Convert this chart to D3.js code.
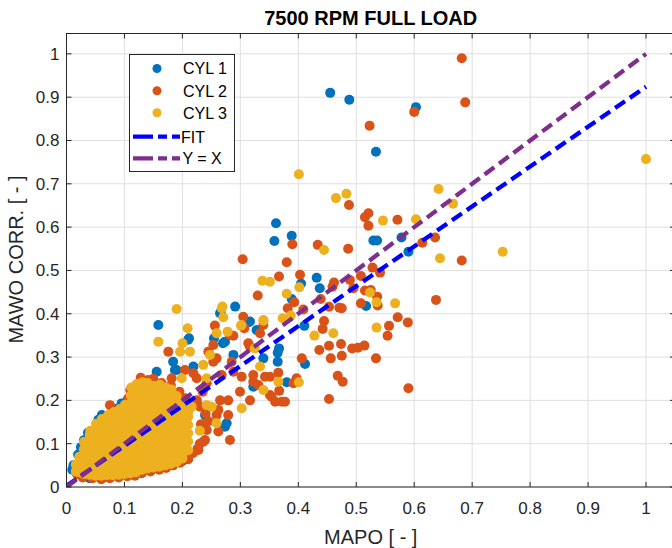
<!DOCTYPE html>
<html><head><meta charset="utf-8">
<script src="https://cdn.jsdelivr.net/npm/d3@7"></script>
<style>body{margin:0;background:#fff}text{font-family:"Liberation Sans",Arial,sans-serif}</style>
</head><body><svg id="c" width="672" height="548"></svg>
<script>
const titleText = "7500 RPM FULL LOAD";
const xLabel = "MAPO [ - ]";
const yLabel = "MAWO CORR. [ - ]";
const xTicks = [0,0.1,0.2,0.3,0.4,0.5,0.6,0.7,0.8,0.9,1];
const yTicks = [0,0.1,0.2,0.3,0.4,0.5,0.6,0.7,0.8,0.9,1];
const tickLabels = ["0","0.1","0.2","0.3","0.4","0.5","0.6","0.7","0.8","0.9","1"];
const seriesNames = ["CYL 1","CYL 2","CYL 3"];
const lineNames = ["FIT","Y = X"];

// CYL 1 (blue)
const cyl1 = [
[0.455,0.91],[0.488,0.894],[0.603,0.877],[0.534,0.774],[0.3615,0.609],[0.3587,0.568],[0.3886,0.58],
[0.5295,0.569],[0.536,0.569],[0.578,0.576],[0.59,0.543],[0.4047,0.47],[0.4317,0.483],[0.437,0.459],
[0.3886,0.434],[0.517,0.418],[0.4104,0.372],[0.4116,0.284],[0.38,0.2418],[0.3644,0.31],[0.3667,0.32],
[0.3644,0.289],[0.3397,0.297],[0.3223,0.2316],[0.328,0.3626],[0.3166,0.382],[0.3137,0.38],[0.291,0.4165],
[0.265,0.401],[0.266,0.4035],[0.2735,0.3356],[0.2545,0.3434],[0.2114,0.3434],[0.21,0.34],[0.1585,0.374],
[0.184,0.289],[0.19,0.27],[0.187,0.27],[0.219,0.278],[0.27,0.332],[0.288,0.305],[0.2764,0.147],
[0.2735,0.139],[0.239,0.166],[0.1556,0.266],[0.118,0.2316],[0.095,0.193],
[0.01,0.04],[0.012,0.05],[0.02,0.075],[0.025,0.092],[0.03,0.108],[0.037,0.125],
[0.055,0.155],[0.061,0.166],[0.085,0.18],
[0.04,0.02],[0.06,0.019],[0.073,0.022],[0.17,0.06],[0.2,0.06],[0.105,0.2]
];

// CYL 2 (orange)
const cyl2 = [
[0.682,0.99],[0.688,0.888],[0.6,0.866],[0.523,0.834],[0.4875,0.651],[0.515,0.623],[0.521,0.632],
[0.521,0.603],[0.571,0.617],[0.614,0.564],[0.636,0.576],[0.682,0.523],[0.3897,0.5605],[0.4335,0.559],
[0.486,0.55],[0.304,0.526],[0.38,0.519],[0.33,0.442],[0.3667,0.486],[0.403,0.49],[0.393,0.4265],
[0.4616,0.472],[0.459,0.4626],[0.508,0.487],[0.528,0.5065],[0.541,0.495],[0.489,0.478],[0.495,0.459],
[0.515,0.4535],[0.525,0.455],[0.536,0.4395],[0.537,0.419],[0.508,0.424],[0.6376,0.432],[0.475,0.4127],
[0.4708,0.414],[0.453,0.416],[0.4386,0.434],[0.4087,0.41],[0.3817,0.4127],[0.3397,0.374],[0.4444,0.3834],
[0.442,0.365],[0.4363,0.3164],[0.453,0.326],[0.4737,0.33],[0.475,0.303],[0.456,0.297],[0.493,0.32],
[0.503,0.3217],[0.514,0.3264],[0.534,0.297],[0.5565,0.372],[0.554,0.349],[0.5715,0.392],[0.589,0.38],
[0.468,0.257],[0.4766,0.243],[0.453,0.203],[0.59,0.228],[0.406,0.297],[0.3655,0.264],[0.3914,0.2395],
[0.367,0.222],[0.377,0.197],[0.36,0.197],[0.351,0.2125],[0.3425,0.2547],[0.3223,0.243],[0.3166,0.324],
[0.3137,0.332],[0.334,0.355],[0.305,0.393],[0.3068,0.3665],[0.256,0.3726],[0.288,0.349],[0.282,0.351],
[0.2533,0.328],[0.259,0.297],[0.2533,0.289],[0.2447,0.3125],[0.285,0.289],[0.288,0.266],[0.3023,0.2547],
[0.3223,0.2587],[0.331,0.2356],[0.351,0.2547],[0.354,0.2085],[0.3713,0.197],[0.397,0.251],[0.2994,0.22],
[0.279,0.2],[0.3166,0.2],[0.279,0.166],[0.282,0.1085],[0.262,0.128],[0.262,0.178],[0.2304,0.1855],
[0.236,0.1046],[0.1757,0.3125],[0.1815,0.251],[0.2045,0.27],[0.2247,0.251],[0.219,0.2626],[0.2678,0.2587],
[0.265,0.2],[0.242,0.1316],[0.239,0.1085],[0.259,0.166],[0.2275,0.0855],[0.242,0.2395],
[0.018,0.03],[0.028,0.022],[0.045,0.02],[0.06,0.018],[0.075,0.02],[0.09,0.022],[0.105,0.025],
[0.118,0.026],[0.13,0.032],[0.145,0.036],[0.16,0.04],[0.172,0.044],[0.184,0.05],[0.196,0.056],
[0.21,0.064],[0.218,0.078],[0.226,0.088],[0.23,0.1],[0.232,0.145],[0.245,0.152],[0.24,0.17],
[0.225,0.2],[0.235,0.22],[0.1067,0.205],[0.11,0.224],[0.1125,0.216],[0.128,0.252],[0.141,0.247],
[0.15,0.25],[0.164,0.24],[0.18,0.235],[0.195,0.22],[0.205,0.205],[0.075,0.189]
];

// CYL 3 (yellow)
const cyl3 = [
[1.0,0.757],[0.401,0.722],[0.483,0.677],[0.465,0.667],[0.642,0.688],[0.667,0.654],[0.546,0.615],
[0.603,0.618],[0.6445,0.528],[0.7527,0.543],[0.4444,0.547],[0.338,0.476],[0.351,0.474],[0.4017,0.461],
[0.38,0.446],[0.5237,0.449],[0.535,0.4265],[0.567,0.424],[0.387,0.3957],[0.373,0.3896],[0.3397,0.3857],
[0.4604,0.355],[0.4277,0.3495],[0.535,0.368],[0.401,0.2418],[0.3655,0.243],[0.3397,0.224],[0.334,0.278],
[0.325,0.32],[0.302,0.374],[0.34,0.384],[0.269,0.4165],[0.2706,0.392],[0.2678,0.4127],[0.301,0.3726],
[0.278,0.3587],[0.259,0.355],[0.19,0.411],[0.1585,0.3356],[0.209,0.3665],[0.196,0.3125],[0.2,0.332],
[0.213,0.3125],[0.236,0.282],[0.2476,0.305],[0.1988,0.251],[0.242,0.251],[0.216,0.1855],[0.242,0.189],
[0.2505,0.1855],[0.23,0.13],[0.259,0.147],[0.3023,0.1817],
[0.016,0.036],[0.016,0.052],
[0.022,0.034],[0.022,0.053],[0.022,0.07],
[0.03,0.03],[0.03,0.049],[0.03,0.068],[0.03,0.087],[0.03,0.104],
[0.04,0.028],[0.04,0.046],[0.04,0.065],[0.04,0.084],[0.04,0.103],[0.04,0.12],[0.041,0.13],
[0.05,0.026],[0.05,0.037],[0.05,0.056],[0.05,0.075],[0.05,0.094],[0.05,0.113],[0.05,0.132],[0.051,0.146],
[0.06,0.026],[0.06,0.045],[0.06,0.064],[0.06,0.083],[0.06,0.102],[0.06,0.121],[0.06,0.14],[0.061,0.157],
[0.07,0.027],[0.07,0.036],[0.07,0.055],[0.07,0.074],[0.07,0.093],[0.07,0.112],[0.07,0.131],[0.07,0.15],[0.072,0.166],
[0.08,0.027],[0.08,0.046],[0.08,0.065],[0.08,0.084],[0.08,0.103],[0.08,0.122],[0.08,0.141],[0.08,0.16],[0.082,0.173],
[0.09,0.028],[0.09,0.037],[0.09,0.056],[0.09,0.075],[0.09,0.094],[0.09,0.113],[0.09,0.132],[0.09,0.151],[0.09,0.17],[0.092,0.18],
[0.1,0.03],[0.1,0.047],[0.1,0.066],[0.1,0.085],[0.1,0.104],[0.1,0.123],[0.1,0.142],[0.1,0.161],[0.1,0.18],[0.101,0.19],
[0.11,0.032],[0.11,0.04],[0.11,0.059],[0.11,0.078],[0.11,0.097],[0.11,0.116],[0.11,0.135],[0.11,0.154],[0.11,0.173],[0.11,0.192],[0.111,0.211],[0.112,0.23],
[0.12,0.034],[0.12,0.05],[0.12,0.069],[0.12,0.088],[0.12,0.107],[0.12,0.126],[0.12,0.145],[0.12,0.164],[0.12,0.183],[0.12,0.202],[0.12,0.221],[0.121,0.238],
[0.13,0.04],[0.13,0.06],[0.13,0.079],[0.13,0.098],[0.13,0.117],[0.13,0.136],[0.13,0.155],[0.13,0.174],[0.13,0.193],[0.13,0.212],[0.13,0.231],[0.131,0.242],
[0.14,0.043],[0.14,0.051],[0.14,0.07],[0.14,0.089],[0.14,0.108],[0.14,0.127],[0.14,0.146],[0.14,0.165],[0.14,0.184],[0.14,0.203],[0.14,0.222],[0.14,0.24],
[0.15,0.045],[0.15,0.062],[0.15,0.081],[0.15,0.1],[0.15,0.119],[0.15,0.138],[0.15,0.157],[0.15,0.176],[0.15,0.195],[0.15,0.214],[0.15,0.233],
[0.16,0.047],[0.16,0.056],[0.16,0.075],[0.16,0.094],[0.16,0.113],[0.16,0.132],[0.16,0.151],[0.16,0.17],[0.16,0.189],[0.16,0.208],[0.16,0.227],[0.161,0.236],
[0.17,0.05],[0.17,0.066],[0.17,0.085],[0.17,0.104],[0.17,0.123],[0.17,0.142],[0.17,0.161],[0.17,0.18],[0.17,0.199],[0.17,0.218],[0.171,0.23],
[0.18,0.053],[0.18,0.076],[0.18,0.095],[0.18,0.114],[0.18,0.133],[0.18,0.152],[0.18,0.171],[0.18,0.19],[0.18,0.209],[0.181,0.225],
[0.19,0.058],[0.19,0.067],[0.19,0.086],[0.19,0.105],[0.19,0.124],[0.19,0.143],[0.19,0.162],[0.19,0.181],[0.19,0.2],[0.19,0.21],
[0.2,0.066],[0.2,0.076],[0.2,0.095],[0.2,0.114],[0.2,0.133],[0.2,0.152],[0.2,0.171],[0.2,0.185],
[0.21,0.085],[0.21,0.105],[0.21,0.124],[0.21,0.143],[0.21,0.162],[0.21,0.174]
];

const fitX = [0, 1];
const fitY = [0.003, 0.924];
const idX = [0, 1];
const idY = [0, 1];

const colors = ["#0072BD","#D95319","#EDB120"];
const fitColor = "#0000FF", idColor = "#7E2F8E";
const axisColor = "#262626", gridColor = "#dfdfdf";

const svg = d3.select("#c");
const x = d3.scaleLinear().domain([0,1.05]).range([66.5,675]);
const y = d3.scaleLinear().domain([0,1.047]).range([487,33.5]);
const L = x(0), R = x(1.05), B = y(0), T = y(1.047);

svg.append("rect").attr("x",0).attr("y",0).attr("width",672).attr("height",548).attr("fill","#fff");
svg.append("defs").append("clipPath").attr("id","pc").append("rect")
  .attr("x",L).attr("y",T).attr("width",R-L).attr("height",B-T);

// grid
const g = svg.append("g");
g.selectAll(".gx").data(xTicks).enter().append("line")
  .attr("x1",d=>x(d)).attr("x2",d=>x(d)).attr("y1",T).attr("y2",B)
  .attr("stroke",gridColor).attr("stroke-width",1);
g.selectAll(".gy").data(yTicks).enter().append("line")
  .attr("y1",d=>y(d)).attr("y2",d=>y(d)).attr("x1",L).attr("x2",R)
  .attr("stroke",gridColor).attr("stroke-width",1);

// points
const pts = svg.append("g").attr("clip-path","url(#pc)");
[cyl1,cyl2,cyl3].forEach((s,i)=>{
  pts.append("g").selectAll("circle").data(s).enter().append("circle")
    .attr("cx",d=>x(d[0])).attr("cy",d=>y(d[1])).attr("r",5)
    .attr("fill",colors[i]);
});

// lines
const line = d3.line().x(d=>x(d[0])).y(d=>y(d[1]));
pts.append("path").datum(fitX.map((v,i)=>[v,fitY[i]])).attr("d",line)
  .attr("fill","none").attr("stroke",fitColor).attr("stroke-width",4.3).attr("stroke-dasharray","12,6");
pts.append("path").datum(idX.map((v,i)=>[v,idY[i]])).attr("d",line)
  .attr("fill","none").attr("stroke",idColor).attr("stroke-width",4.3).attr("stroke-dasharray","12,6");

// frame and ticks
const ax = svg.append("g").attr("stroke",axisColor).attr("stroke-width",1);
ax.append("rect").attr("x",L).attr("y",T).attr("width",R-L).attr("height",B-T).attr("fill","none");
xTicks.forEach(v=>{
  ax.append("line").attr("x1",x(v)).attr("x2",x(v)).attr("y1",B).attr("y2",B-5);
  ax.append("line").attr("x1",x(v)).attr("x2",x(v)).attr("y1",T).attr("y2",T+5);
});
yTicks.forEach(v=>{
  ax.append("line").attr("y1",y(v)).attr("y2",y(v)).attr("x1",L).attr("x2",L+5);
  ax.append("line").attr("y1",y(v)).attr("y2",y(v)).attr("x1",R).attr("x2",R-5);
});

const lab = svg.append("g").attr("fill",axisColor).attr("font-size",17);
lab.selectAll(".xt").data(xTicks).enter().append("text")
  .attr("x",d=>x(d)).attr("y",514).attr("text-anchor","middle").text((d,i)=>tickLabels[i]);
lab.selectAll(".yt").data(yTicks).enter().append("text")
  .attr("x",59.5).attr("y",d=>y(d)+6).attr("text-anchor","end").text((d,i)=>tickLabels[i]);

svg.append("text").attr("x",370.75).attr("y",544).attr("text-anchor","middle")
  .attr("font-size",20).attr("fill",axisColor).text(xLabel);
svg.append("text").attr("transform","translate(23,259.5) rotate(-90)").attr("text-anchor","middle")
  .attr("font-size",20).attr("fill",axisColor).text(yLabel);
svg.append("text").attr("x",370.75).attr("y",25).attr("text-anchor","middle")
  .attr("font-size",20).attr("font-weight","bold").attr("fill","#000").text(titleText);

// legend
const lg = svg.append("g");
lg.append("rect").attr("x",129.5).attr("y",54.5).attr("width",105).attr("height",117)
  .attr("fill","#fff").attr("stroke",axisColor).attr("stroke-width",1);
const rowsY = [68.5,90.7,112.7];
seriesNames.forEach((n,i)=>{
  lg.append("circle").attr("cx",157).attr("cy",rowsY[i]).attr("r",4.5).attr("fill",colors[i]);
  lg.append("text").attr("x",183).attr("y",rowsY[i]+5.8).attr("font-size",16).attr("fill","#000").text(n);
});
const lineRows = [136.7,158.3];
[fitColor,idColor].forEach((c,i)=>{
  lg.append("line").attr("x1",133).attr("x2",180).attr("y1",lineRows[i]).attr("y2",lineRows[i])
    .attr("stroke",c).attr("stroke-width",4.3).attr("stroke-dasharray","20,5,9,5,8");
  lg.append("text").attr("x",i===0?181:182.5).attr("y",lineRows[i]+5.8).attr("font-size",16).attr("fill","#000").text(lineNames[i]);
});
</script></body></html>
